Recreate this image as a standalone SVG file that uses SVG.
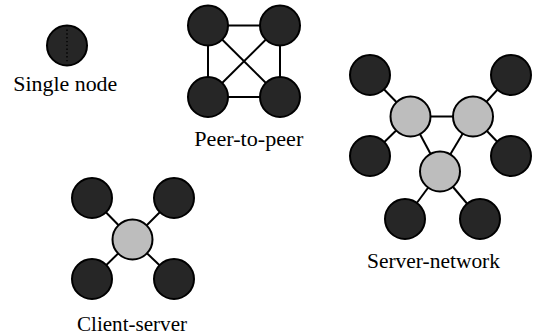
<svg xmlns="http://www.w3.org/2000/svg" width="535" height="335" viewBox="0 0 535 335">
  <style>
    .client { fill: #262626; stroke: #000; stroke-width: 2; }
    .server { fill: #bdbdbd; stroke: #000; stroke-width: 2; }
    .link { stroke: #000; stroke-width: 2; fill: none; }
    .label { font-family: "Liberation Serif", "DejaVu Serif", serif; font-size: 20px; fill: #000; text-anchor: middle; }
  </style>
  <rect width="535" height="335" fill="#fff"/>

  <!-- links -->
  <g id="connectors">
    <!-- peer-to-peer mesh -->
    <line class="link" x1="208" y1="25.5" x2="280" y2="25.5"/>
    <line class="link" x1="208" y1="97" x2="280" y2="97"/>
    <line class="link" x1="208" y1="25.5" x2="208" y2="97"/>
    <line class="link" x1="280" y1="25.5" x2="280" y2="97"/>
    <line class="link" x1="208" y1="25.5" x2="280" y2="97"/>
    <line class="link" x1="280" y1="25.5" x2="208" y2="97"/>
    <!-- server network -->
    <line class="link" x1="370" y1="75" x2="410.5" y2="116.5"/>
    <line class="link" x1="370" y1="156" x2="410.5" y2="116.5"/>
    <line class="link" x1="511" y1="75" x2="473" y2="116.5"/>
    <line class="link" x1="511" y1="156" x2="473" y2="116.5"/>
    <line class="link" x1="410.5" y1="116.5" x2="473" y2="116.5"/>
    <line class="link" x1="410.5" y1="116.5" x2="440" y2="171.5"/>
    <line class="link" x1="473" y1="116.5" x2="440" y2="171.5"/>
    <line class="link" x1="440" y1="171.5" x2="405" y2="219"/>
    <line class="link" x1="440" y1="171.5" x2="480" y2="219"/>
    <!-- client-server star -->
    <line class="link" x1="92" y1="198" x2="132.5" y2="239.5"/>
    <line class="link" x1="174" y1="198" x2="132.5" y2="239.5"/>
    <line class="link" x1="92" y1="279" x2="132.5" y2="239.5"/>
    <line class="link" x1="174" y1="279" x2="132.5" y2="239.5"/>
  </g>

  <!-- single node -->
  <g id="single-node">
    <circle class="client" cx="67" cy="45.5" r="20"/>
    <line x1="67" y1="29.5" x2="67" y2="62" stroke="#000" stroke-width="1.4" stroke-dasharray="1.4 2.4"/>
    <text class="label" x="65.3" y="91" textLength="104" lengthAdjust="spacingAndGlyphs">Single node</text>
  </g>

  <!-- peer-to-peer -->
  <g id="p2p-a"><circle class="client" cx="208" cy="25.5" r="20"/></g>
  <g id="p2p-b"><circle class="client" cx="280" cy="25.5" r="20"/></g>
  <g id="p2p-c"><circle class="client" cx="208" cy="97" r="20"/></g>
  <g id="p2p-d"><circle class="client" cx="280" cy="97" r="20"/></g>
  <text class="label" x="248.8" y="145.5" textLength="109" lengthAdjust="spacingAndGlyphs">Peer-to-peer</text>

  <!-- server network -->
  <g id="sn-client-tl"><circle class="client" cx="370" cy="75" r="20"/></g>
  <g id="sn-client-tr"><circle class="client" cx="511" cy="75" r="20"/></g>
  <g id="sn-client-ml"><circle class="client" cx="370" cy="156" r="20"/></g>
  <g id="sn-client-mr"><circle class="client" cx="511" cy="156" r="20"/></g>
  <g id="sn-client-bl"><circle class="client" cx="405" cy="219" r="20"/></g>
  <g id="sn-client-br"><circle class="client" cx="480" cy="219" r="20"/></g>
  <g id="sn-server-l"><circle class="server" cx="410.5" cy="116.5" r="20"/></g>
  <g id="sn-server-r"><circle class="server" cx="473" cy="116.5" r="20"/></g>
  <g id="sn-server-b"><circle class="server" cx="440" cy="171.5" r="20"/></g>
  <text class="label" x="433.5" y="268" textLength="133" lengthAdjust="spacingAndGlyphs">Server-network</text>

  <!-- client-server -->
  <g id="cs-client-tl"><circle class="client" cx="92" cy="198" r="20"/></g>
  <g id="cs-client-tr"><circle class="client" cx="174" cy="198" r="20"/></g>
  <g id="cs-client-bl"><circle class="client" cx="92" cy="279" r="20"/></g>
  <g id="cs-client-br"><circle class="client" cx="174" cy="279" r="20"/></g>
  <g id="cs-server"><circle class="server" cx="132.5" cy="239.5" r="20"/></g>
  <text class="label" x="132" y="330.5" textLength="110" lengthAdjust="spacingAndGlyphs">Client-server</text>
</svg>
